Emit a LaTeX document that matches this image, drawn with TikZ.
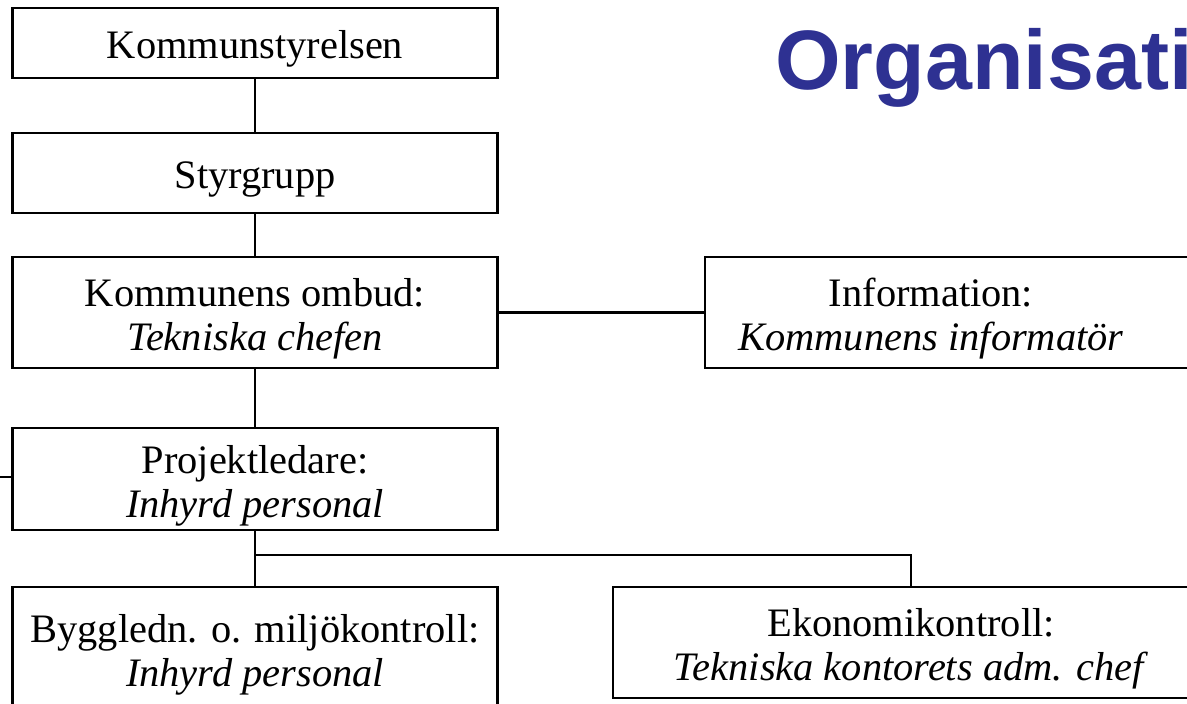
\documentclass[tikz,border=0pt]{standalone}
\usepackage{fontspec}
\setmainfont{Liberation Serif}
\newfontfamily\titlefont{Liberation Sans}
\definecolor{titleblue}{RGB}{46,49,146}

\begin{document}
\begin{tikzpicture}[
	box/.style={draw, line width=1.6pt, minimum width=9.7cm, align=center, text height=23pt,
		inner ysep=0pt, font=\fontsize{23}{25}\selectfont},
	twoline/.style={text height=48.5pt},
	link/.style={line width=1.6pt}]
	\path[use as bounding box, clip] (0,0) rectangle (23.74,-14.06);
	\node[anchor=base west, text=titleblue, inner sep=0pt,
		font=\titlefont\bfseries\fontsize{48}{50}\selectfont] (title) at (15.5,-1.8) {Organisation};
	\node[box, minimum height=1.4cm] (ks) at (5.1,-0.86) {Kommunstyrelsen};
	\node[box, minimum height=1.6cm] (sg) at (5.1,-3.46) {Styrgrupp};
	\node[box, twoline, minimum height=2.22cm] (ombud) at (5.1,-6.25) {Kommunens ombud:\\\textit{Tekniska chefen}};
	\node[box, twoline, draw=none, outer sep=0pt, minimum height=2.22cm, minimum width=9.04cm] (info) at (18.62,-6.25) {Information:\\\textit{Kommunens informatör}};
	\draw[link] (info.north west) rectangle ([xshift=2cm]info.south east);
	\node[box, twoline, minimum height=2.04cm] (proj) at (5.1,-9.58) {Projektledare:\\\textit{Inhyrd personal}};
	\node[box, twoline, minimum height=2.44cm] (bygg) at (5.1,-12.96) {Byggledn. o. miljökontroll:\\\textit{Inhyrd personal}};
	\node[box, twoline, minimum height=2.22cm, minimum width=11.92cm] (eko) at (18.22,-12.85) {Ekonomikontroll:\\\textit{Tekniska kontorets adm. chef}};
	\coordinate (stub) at (-0.2,-9.54);
	\coordinate (split) at (5.1,-11.1);
	\draw[link] (ks) -- (sg);
	\draw[link] (sg) -- (ombud);
	\draw[link] (ombud) -- (proj);
	\draw[link] (ombud) -- (info);
	\draw[link] (proj.west |- stub) -- (stub);
	\draw[link] (proj) -- (split) -- (bygg);
	\draw[link] (split) -| (eko);
\end{tikzpicture}
\end{document}
